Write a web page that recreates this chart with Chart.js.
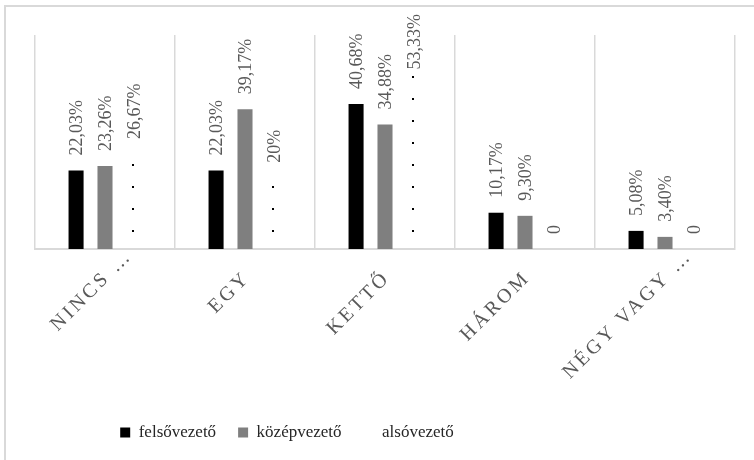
<!DOCTYPE html>
<html lang="hu">
<head>
<meta charset="utf-8">
<script src="https://cdn.jsdelivr.net/npm/chart.js@4.4.1/dist/chart.umd.min.js"></script>
<style>
  html, body { margin: 0; padding: 0; background: #ffffff; }
  #wrap { position: relative; width: 754px; height: 460px; }
</style>
</head>
<body>
<div id="wrap"><canvas id="chart" width="754" height="460"></canvas></div>
<script>
// Kategóriák (a tengelyen rövidítve jelennek meg)
const categories = ['NINCS …', 'EGY', 'KETTŐ', 'HÁROM', 'NÉGY VAGY …'];

// Sorozatok, százalékban
const felsovezeto = [22.03, 22.03, 40.68, 10.17, 5.08];
const kozepvezeto = [23.26, 39.17, 34.88, 9.30, 3.40];
const alsovezeto = [26.67, 20, 53.33, 0, 0];

const seriesNames = ['felsővezető', 'középvezető', 'alsóvezető'];

const SERIF = '"Liberation Serif", "Times New Roman", "DejaVu Serif", serif';
const GRID = '#d9d9d9';
const TEXT = '#595959';
const CAT_SPACING = 3;

// Ritka pontozott minta a harmadik sorozat oszlopaihoz
function dotPattern() {
  const c = document.createElement('canvas');
  c.width = 35; c.height = 22;
  const g = c.getContext('2d');
  g.fillStyle = '#000000';
  g.fillRect(27, 10, 2, 2);
  return g.createPattern(c, 'repeat');
}

function formatValue(v) {
  if (v === 0) return '0';
  if (Number.isInteger(v)) return v + '%';
  return v.toFixed(2).replace('.', ',') + '%';
}

// Keret a diagram körül
const framePlugin = {
  id: 'frame',
  beforeDraw(chart) {
    const ctx = chart.ctx;
    ctx.save();
    ctx.fillStyle = '#ffffff';
    ctx.fillRect(0, 0, chart.width, chart.height);
    ctx.strokeStyle = GRID;
    ctx.lineWidth = 2;
    ctx.beginPath();
    ctx.moveTo(5, chart.height);
    ctx.lineTo(5, 6);
    ctx.lineTo(chart.width, 6);
    ctx.stroke();
    ctx.restore();
  }
};

// A jelmagyarázat balra tolva áll a rajzterület alatt
const legendShiftPlugin = {
  id: 'legendShift',
  afterLayout(chart) {
    const lg = chart.legend;
    if (lg) { lg.left -= 98; lg.right -= 98; }
  }
};

// Függőleges értékcímkék az oszlopok fölött
const valueLabelPlugin = {
  id: 'valueLabels',
  afterDatasetsDraw(chart) {
    const ctx = chart.ctx;
    ctx.save();
    ctx.font = '18px ' + SERIF;
    ctx.fillStyle = TEXT;
    ctx.textAlign = 'left';
    ctx.textBaseline = 'middle';
    chart.data.datasets.forEach((ds, di) => {
      const meta = chart.getDatasetMeta(di);
      meta.data.forEach((bar, i) => {
        const text = formatValue(ds.data[i]);
        const w = ctx.measureText(text).width;
        let start = bar.y - 15;
        if (start - w < 14) start = 14 + w;
        ctx.save();
        ctx.translate(bar.x + 1, start);
        ctx.rotate(-Math.PI / 2);
        ctx.fillText(text, 0, 0);
        ctx.restore();
      });
    });
    ctx.restore();
  }
};

// Ritkított betűközű, ferde kategóriafeliratok
const categoryLabelPlugin = {
  id: 'categoryLabels',
  afterDraw(chart) {
    const ctx = chart.ctx;
    const xs = chart.scales.x;
    ctx.save();
    ctx.font = '20px ' + SERIF;
    ctx.fillStyle = TEXT;
    ctx.letterSpacing = CAT_SPACING + 'px';
    ctx.textAlign = 'left';
    ctx.textBaseline = 'middle';
    chart.data.labels.forEach((label, i) => {
      const x = xs.getPixelForTick(i);
      const main = label.replace(/\s*…$/, '');
      const mw = ctx.measureText(main).width - CAT_SPACING;
      ctx.save();
      ctx.translate(x, xs.top + 28);
      ctx.rotate(-Math.PI / 4);
      ctx.fillText(label, -mw, 0);
      ctx.restore();
    });
    ctx.restore();
  }
};

const pattern = dotPattern();

new Chart(document.getElementById('chart'), {
  type: 'bar',
  data: {
    labels: categories,
    datasets: [
      { label: seriesNames[0], data: felsovezeto, backgroundColor: '#000000' },
      { label: seriesNames[1], data: kozepvezeto, backgroundColor: '#7f7f7f' },
      { label: seriesNames[2], data: alsovezeto, backgroundColor: pattern }
    ]
  },
  options: {
    responsive: false,
    animation: false,
    devicePixelRatio: 1,
    categoryPercentage: 0.62,
    barPercentage: 0.52,
    layout: { padding: { top: 35, left: 35, right: 19, bottom: 9 } },
    scales: {
      x: {
        offset: true,
        grid: { display: true, offset: true, color: GRID, lineWidth: 1.5, drawTicks: false },
        border: { display: true, color: GRID, width: 2 },
        ticks: { display: false },
        afterFit(scale) { scale.height = 153; }
      },
      y: {
        display: false,
        min: 0,
        max: 60
      }
    },
    plugins: {
      tooltip: { enabled: false },
      legend: {
        position: 'bottom',
        labels: {
          font: { family: SERIF, size: 17 },
          color: '#262626',
          boxWidth: 10,
          boxHeight: 10,
          padding: 22,
          generateLabels(chart) {
            return chart.data.datasets.map((ds, i) => ({
              text: ds.label,
              fillStyle: i === 2 ? 'rgba(0,0,0,0)' : ds.backgroundColor,
              strokeStyle: 'rgba(0,0,0,0)',
              lineWidth: 0,
              fontColor: '#262626',
              datasetIndex: i
            }));
          }
        }
      }
    }
  },
  plugins: [framePlugin, legendShiftPlugin, valueLabelPlugin, categoryLabelPlugin]
});
</script>
</body>
</html>
